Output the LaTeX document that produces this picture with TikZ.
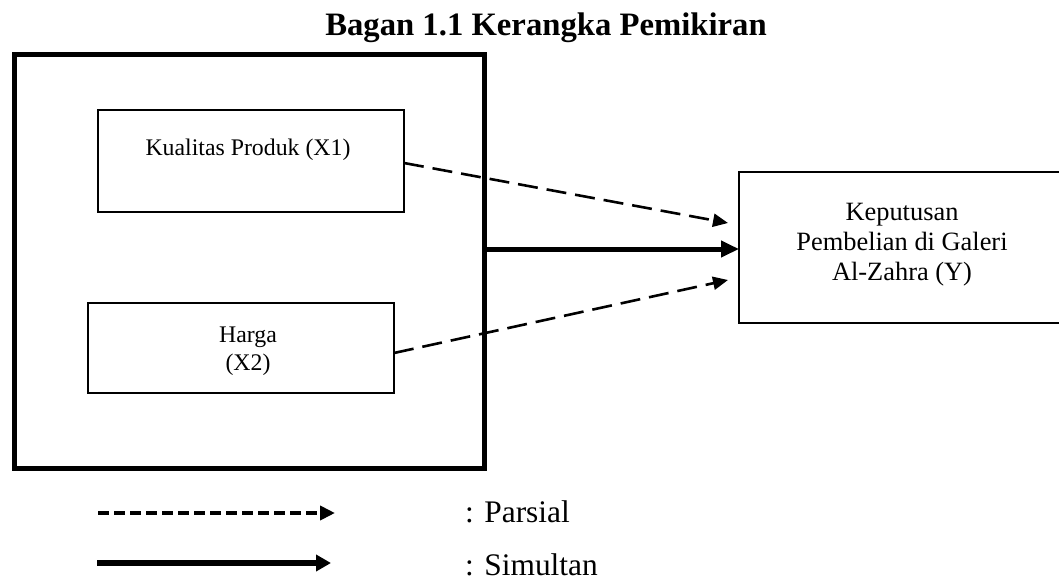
\documentclass[tikz,border=0pt]{standalone}
\usepackage{fontspec}
\setmainfont{Liberation Serif}
\usetikzlibrary{arrows.meta,calc}
\tikzset{
  px/.style={x=1pt,y=-1pt},
  varbox/.style={draw,line width=1.4pt,inner sep=0pt,outer sep=0pt},
  groupbox/.style={draw,line width=5pt,inner sep=0pt,outer sep=0pt},
  boxtxt/.style={font=\fontsize{23.8pt}{28pt}\selectfont,inner sep=0pt,anchor=base},
  ytxt/.style={font=\fontsize{26.4pt}{30pt}\selectfont,inner sep=0pt,align=center,anchor=base},
  parsial/.style={line width=2.6pt,dash pattern=on 20pt off 9pt,-{Triangle[length=15pt,width=13pt]}},
  simultan/.style={line width=5pt,-{Triangle[length=18pt,width=16pt]}},
  legparsial/.style={line width=4pt,dash pattern=on 11pt off 5pt,-{Triangle[length=15pt,width=14pt]}},
  legsimultan/.style={line width=5.5pt,-{Triangle[length=15pt,width=16pt]}},
  legtxt/.style={font=\fontsize{31.4pt}{34pt}\selectfont,inner sep=0pt,anchor=base west},
}
\begin{document}
\begin{tikzpicture}[px]
\useasboundingbox (0,0) rectangle (1059,588);
\clip (0,0) rectangle (1059,588);
% title
\node[font=\bfseries\fontsize{32.7pt}{36pt}\selectfont,inner sep=0pt,anchor=base] (title) at (546,36) {Bagan 1.1 Kerangka Pemikiran};
% outer group box
\node[groupbox,minimum width=470pt,minimum height=413.5pt] (outer) at (249.5,261.75) {};
% X1
\node[varbox,minimum width=306pt,minimum height=102pt] (x1) at (251,161) {};
\node[boxtxt] (x1t) at (248,155.5) {Kualitas Produk (X1)};
% X2
\node[varbox,minimum width=306pt,minimum height=90pt] (x2) at (241,348) {};
\node[boxtxt] (x2t) at (248,342) {Harga};
\node[boxtxt] (x2u) at (248,370) {(X2)};
% Y
\node[varbox,line width=1.6pt,minimum width=323pt,minimum height=151pt] (y) at (900.5,247.5) {};
\node[ytxt] (yt1) at (902,220.5) {Keputusan};
\node[ytxt] (yt2) at (902,250.5) {Pembelian di Galeri};
\node[ytxt] (yt3) at (902,280.5) {Al-Zahra (Y)};
% connectors
\coordinate (t1) at (728,223);
\coordinate (t2) at (728,280);
\draw[parsial] ($(x1.east)+(0,2)$) -- (t1);
\draw[parsial] ($(x2.east)+(0,5)$) -- (t2);
\draw[simultan] ($(outer.east |- y.west)+(0,1.5)$) -- ($(y.west)+(0,1.5)$);
% legend
\coordinate (la) at (98,513);
\coordinate (lb) at (335,513);
\coordinate (lc) at (97,563);
\coordinate (ld) at (331,563);
\draw[legparsial] (la) -- (lb);
\draw[legsimultan] (lc) -- (ld);
\node[legtxt] (lt1) at (465,522.5) {: Parsial};
\node[legtxt] (lt2) at (465,575) {: Simultan};
\end{tikzpicture}
\end{document}
